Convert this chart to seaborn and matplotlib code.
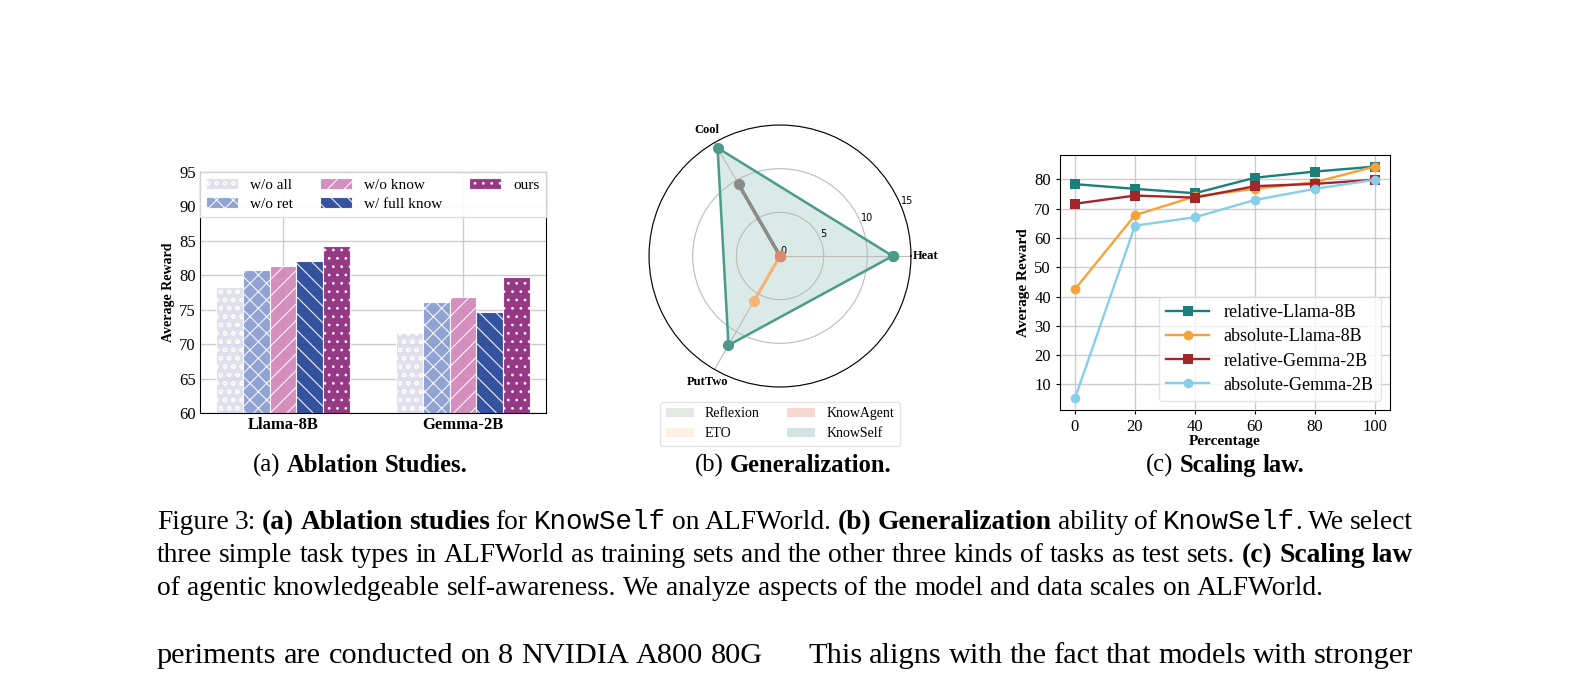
import numpy as np
import pandas as pd
import seaborn as sns
import matplotlib.pyplot as plt
from matplotlib.patches import Patch
from matplotlib.transforms import IdentityTransform

# (a) ablation data
models = ["Llama-8B", "Gemma-2B"]
variants = ["w/o all", "w/o ret", "w/o know", "w/ full know", "ours"]
llama_abl = [78.3, 80.7, 81.4, 82.1, 84.3]
gemma_abl = [71.6, 76.1, 76.8, 74.7, 79.8]
bar_colors = ["#dcdde9", "#8499cf", "#d083b8", "#1f3f94", "#8b2378"]
bar_hatches = ["oo", "xx", "//", "\\\\", ".."]

# (b) generalization data (Heat, Cool, PutTwo)
tasks = ["Heat", "Cool", "PutTwo"]
methods = ["Reflexion", "ETO", "KnowAgent", "KnowSelf"]
reflexion = [0, 9.5, 0]
eto = [0, 0, 5.9]
knowagent = [0, 0, 0]
knowself = [12.9, 14.3, 11.8]
radar_colors = ["#8c8c8c", "#f5b57a", "#d98b6e", "#4a9b8b"]
radar_legend_colors = ["#e3e9e3", "#fbf0e2", "#f5d8d0", "#d3e5e2"]

# (c) scaling data
pct = [0, 20, 40, 60, 80, 100]
series_names = ["relative-Llama-8B", "absolute-Llama-8B", "relative-Gemma-2B", "absolute-Gemma-2B"]
rel_llama = [78.4, 76.8, 75.3, 80.6, 82.7, 84.4]
abs_llama = [42.5, 67.8, 74.2, 76.8, 79.1, 84.4]
rel_gemma = [71.7, 74.5, 73.8, 77.7, 78.5, 79.9]
abs_gemma = [5.2, 64.2, 67.1, 73.0, 76.8, 79.9]
line_colors = ["#1b7f7a", "#f7a238", "#a3262a", "#87ceeb"]

plt.rcParams["font.family"] = "Liberation Serif"
plt.rcParams["hatch.linewidth"] = 0.8
plt.rcParams["axes.edgecolor"] = "black"

W, H = 1571, 678
fig = plt.figure(figsize=(W / 100, H / 100), dpi=100)

# ---------- (a) ablation bars
ax1 = fig.add_axes([0.1273, 0.3909, 0.2202, 0.3555])
abl = pd.DataFrame({
    "model": np.repeat(models, len(variants)),
    "variant": variants * 2,
    "reward": llama_abl + gemma_abl,
})
sns.barplot(data=abl, x="model", y="reward", hue="variant", hue_order=variants,
            palette=bar_colors, width=0.74, saturation=1, edgecolor="white",
            linewidth=0.8, alpha=0.9, legend=False, ax=ax1)
for cont, h in zip(ax1.containers, bar_hatches):
    for p in cont:
        p.set_hatch(h)
ax1.set_ylim(60, 95)
ax1.set_xlim(-0.46, 1.46)
ax1.grid(True, color="#cccccc", lw=1)
ax1.set_axisbelow(True)
ax1.set_xlabel("")
ax1.set_ylabel("Average Reward", fontsize=10, fontweight="bold", labelpad=3)
ax1.tick_params(labelsize=12, length=0, pad=3)
for lbl in ax1.get_xticklabels():
    lbl.set_fontweight("bold")
ax1.legend(ax1.containers, variants, loc="upper left", bbox_to_anchor=(0, 1, 1, 0),
           mode="expand", ncol=3, borderaxespad=0, fontsize=11, handlelength=2.1,
           labelspacing=0.35, edgecolor="#dddddd", fancybox=False, framealpha=0.9)

# ---------- (b) radar
ax2 = fig.add_axes([0.4131, 0.4292, 0.1668, 0.3864], projection="polar")
ang = np.deg2rad([0, 120, 240])
closed = np.append(ang, ang[0])
for vals, col, lw in zip([reflexion, eto, knowagent, knowself], radar_colors, [2.3, 2, 2, 1.8]):
    v = np.append(vals, vals[0])
    ax2.plot(closed, v, color=col, lw=lw, marker="o", ms=7)
    ax2.fill(closed, v, color=col, alpha=0.2, lw=0)
ax2.set_ylim(0, 15)
ax2.set_yticks([0, 5, 10, 15])
ax2.set_yticklabels(["0", "5", "10", "15"], fontsize=7, family="DejaVu Sans")
ax2.set_xticks(ang)
ax2.set_xticklabels(tasks, fontsize=9, fontweight="bold")
ax2.tick_params(axis="x", pad=0)
ax2.grid(color="#bbbbbb", lw=0.8)
ax2.spines["polar"].set_linewidth(0.8)
ax2.legend([Patch(facecolor=c, edgecolor="none") for c in radar_legend_colors], methods,
           loc="upper center", bbox_to_anchor=(0.5, -0.03), ncol=2, fontsize=10,
           handlelength=2.0, columnspacing=2.0, edgecolor="#dddddd")

# ---------- (c) scaling lines
ax3 = fig.add_axes([0.6747, 0.3953, 0.2101, 0.3761])
scale = pd.DataFrame({
    "pct": pct * 4,
    "reward": rel_llama + abs_llama + rel_gemma + abs_gemma,
    "series": np.repeat(series_names, len(pct)),
})
sns.lineplot(data=scale, x="pct", y="reward", hue="series", style="series",
             hue_order=series_names, style_order=series_names, palette=line_colors,
             markers=["s", "o", "s", "o"], dashes=False, markersize=7, linewidth=1.7,
             markeredgewidth=0, ax=ax3)
ax3.set_xticks(pct)
ax3.set_yticks(range(10, 81, 10))
ax3.grid(True, color="#cccccc", lw=1)
ax3.set_xlabel("Percentage", fontsize=11, fontweight="bold", labelpad=0)
ax3.set_ylabel("Average Reward", fontsize=11, fontweight="bold", labelpad=3)
ax3.tick_params(labelsize=12, length=3)
sns.move_legend(ax3, "lower right", title=None, fontsize=13, handlelength=2.4,
                edgecolor="#dddddd", labelspacing=0.4)

# ---------- caption text
styles = {"n": {}, "b": {"fontweight": "bold"}, "m": {"family": "Liberation Mono"}}


def words(s, st):
    return [(w, st, True) for w in s.split()]


def make(tokens, size):
    r = fig.canvas.get_renderer()
    arts = [fig.text(0, 0, w, fontsize=size, transform=IdentityTransform(),
                     va="baseline", ha="left", **styles[st]) for w, st, _ in tokens]
    ws = [t.get_window_extent(r).width for t in arts]
    return arts, ws


def natural(tokens, size):
    arts, ws = make(tokens, size)
    for t in arts:
        t.remove()
    ngap = sum(1 for tok in tokens[1:] if tok[2])
    return sum(ws) + ngap * size * 0.25 * 100 / 72


def place(tokens, size, base, x0=None, x1=None, center=None):
    arts, ws = make(tokens, size)
    ngap = sum(1 for tok in tokens[1:] if tok[2])
    sp = size * 0.25 * 100 / 72
    if x1 is not None:
        sp = (x1 - x0 - sum(ws)) / ngap
    if center is not None:
        x0 = center - (sum(ws) + ngap * sp) / 2
    x = x0
    for i, (t, w, tok) in enumerate(zip(arts, ws, tokens)):
        if i and tok[2]:
            x += sp
        t.set_position((x, H - base))
        x += w


line1 = (words("Figure 3:", "n") + words("(a) Ablation studies", "b") + words("for", "n")
         + words("KnowSelf", "m") + words("on ALFWorld.", "n") + words("(b) Generalization", "b")
         + words("ability of", "n") + words("KnowSelf", "m") + [(".", "n", False)]
         + words("We select", "n"))
line2 = (words("three simple task types in ALFWorld as training sets and the other three kinds "
               "of tasks as test sets.", "n") + words("(c) Scaling law", "b"))
line3 = words("of agentic knowledgeable self-awareness. We analyze aspects of the model and "
              "data scales on ALFWorld.", "n")
left4 = words("periments are conducted on 8 NVIDIA A800 80G", "n")
right4 = words("This aligns with the fact that models with stronger", "n")

cap_size = 20 * 1166 / natural(line3, 20)
place(line1, cap_size, 529, x0=157, x1=1413)
place(line2, cap_size, 562, x0=157, x1=1413)
place(line3, cap_size, 595, x0=157)

body_size = 20 * 606 / natural(left4, 20)
place(left4, body_size, 663, x0=157, x1=763)
place(right4, body_size, 663, x0=808, x1=1413)

sub_a = words("(a)", "n") + words("Ablation Studies.", "b")
sub_size = 20 * 214 / natural(sub_a, 20)
place(sub_a, sub_size, 472, center=360)
place(words("(b)", "n") + words("Generalization.", "b"), sub_size, 472, center=793)
place(words("(c)", "n") + words("Scaling law.", "b"), sub_size, 472, center=1225)

fig.savefig("out.png", dpi=100)
